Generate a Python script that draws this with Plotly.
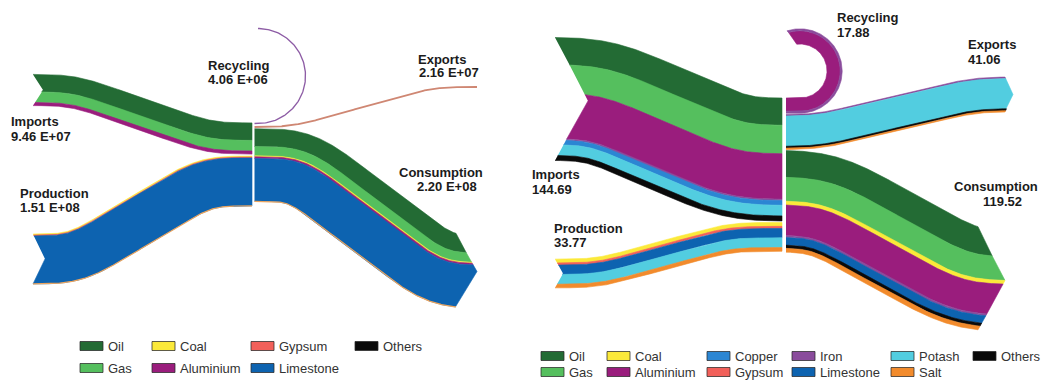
import numpy as np
import plotly.graph_objects as go

# ---------------- data ----------------
# Left panel (tonnes)
left_imports_mat = ["Oil", "Gas", "Aluminium"]
left_imports_val = [5.30e7, 3.20e7, 0.96e7]
left_production_mat = ["Coal", "Gypsum", "Limestone"]
left_production_val = [3.0e6, 2.5e6, 1.455e8]
left_consumption_mat = ["Oil", "Gas", "Coal", "Aluminium", "Limestone"]
left_consumption_val = [5.40e7, 2.80e7, 3.0e6, 5.0e6, 1.30e8]
left_recycling_val = 4.06e6
left_exports_val = 2.16e7

# Right panel
right_imports_mat = ["Oil", "Gas", "Aluminium", "Iron", "Copper", "Potash", "Others"]
right_imports_val = [32.0, 33.5, 53.5, 1.7, 5.5, 12.49, 6.0]
right_production_mat = ["Coal", "Gypsum", "Limestone", "Potash", "Salt"]
right_production_val = [4.5, 2.5, 11.0, 11.5, 4.27]
right_recycling_mat = ["Aluminium", "Iron"]
right_recycling_val = [15.5, 2.38]
right_exports_mat = ["Iron", "Potash", "Others", "Salt"]
right_exports_val = [1.8, 35.5, 2.2, 1.56]
right_consumption_mat = ["Oil", "Gas", "Coal", "Aluminium", "Iron", "Limestone", "Others", "Salt"]
right_consumption_val = [31.5, 28.0, 4.5, 36.0, 2.2, 9.0, 3.8, 4.52]

left_legend = [("Oil", 80, 0), ("Gas", 80, 1), ("Coal", 152, 0), ("Aluminium", 152, 1),
               ("Gypsum", 251, 0), ("Limestone", 251, 1), ("Others", 355, 0)]
right_legend = [("Oil", 541, 0), ("Gas", 541, 1), ("Coal", 607, 0), ("Aluminium", 607, 1),
                ("Copper", 707, 0), ("Gypsum", 707, 1), ("Iron", 792, 0), ("Limestone", 792, 1),
                ("Potash", 891, 0), ("Salt", 891, 1), ("Others", 973, 0)]

COLORS = {"Oil": "#236b34", "Gas": "#55bf5e", "Coal": "#fbe93a", "Aluminium": "#9a1d7d",
          "Gypsum": "#f2605a", "Limestone": "#0d63b0", "Others": "#0a0a0a", "Copper": "#2b86d3",
          "Iron": "#8a4c9c", "Potash": "#52cde0", "Salt": "#f28b2c"}

SCALE_L = 3.3e-7   # px per tonne
SCALE_R = 0.85     # px per unit

STEP = 0.5
fig = go.Figure()


def centerline(points, x0, x1, smooth):
    pad = 120
    xs = np.arange(x0 - pad, x1 + pad + STEP, STEP)
    px, py = zip(*points)
    ys = np.interp(xs, px, py)
    k = max(1, int(smooth / STEP))
    ker = np.ones(k) / k
    for _ in range(2):
        ys = np.convolve(np.pad(ys, (k, k), mode="edge"), ker, mode="same")[k:-k]
    return xs, ys


def offset(ys, s):
    """Curve at perpendicular distance s from ys (s>0 = below on screen)."""
    if abs(s) < 1e-9:
        return ys.copy()
    d = abs(s)
    n = int(np.ceil(d / STEP))
    padded = np.pad(ys, (n, n), mode="edge")
    L = len(ys)
    out = np.full(L, -np.inf if s > 0 else np.inf)
    for i in range(-n, n + 1):
        dx = i * STEP
        h = np.sqrt(max(d * d - dx * dx, 0.0))
        seg = padded[n + i:n + i + L]
        out = np.maximum(out, seg + h) if s > 0 else np.minimum(out, seg - h)
    return out


def poly(x, y, color):
    fig.add_trace(go.Scatter(x=np.round(x, 2), y=np.round(y, 2), mode="lines", fill="toself",
                             fillcolor=color, line=dict(color=color, width=0.6),
                             hoverinfo="skip", showlegend=False))


def band(mats, vals, scale, path, x0, x1, smooth=40, notch=0, tip=0):
    xs, yc = centerline(path, x0, x1, smooth)
    widths = np.array(vals, dtype=float) * scale
    W = widths.sum()
    cum = np.concatenate([[0.0], np.cumsum(widths)])
    curves = [offset(yc, c - W / 2) for c in cum]
    # chevron vertices on the band's middle line
    xl_v, xr_v = x0 + notch, x1 + tip
    yl_v, yr_v = np.interp(xl_v, xs, yc), np.interp(xr_v, xs, yc)

    def piece(k):
        f = 1 - abs(2 * cum[k] / W - 1)
        a, b = x0 + notch * f, x1 + tip * f
        m = (xs > a) & (xs < b)
        px = np.concatenate([[a], xs[m], [b]])
        py = np.concatenate([[np.interp(a, xs, curves[k])], curves[k][m],
                             [np.interp(b, xs, curves[k])]])
        return px, py

    for k, mat in enumerate(mats):
        tx, ty = piece(k)
        bx, by = piece(k + 1)
        spans = cum[k] < W / 2 < cum[k + 1]
        X, Y = [tx], [ty]
        if spans and tip:
            X.append([xr_v]); Y.append([yr_v])
        X.append(bx[::-1]); Y.append(by[::-1])
        if spans and notch:
            X.append([xl_v]); Y.append([yl_v])
        poly(np.concatenate(X), np.concatenate(Y), COLORS[mat])
    return piece(len(mats))


def hook(mats, vals, scale, cx, cy, r_in, x_start, phi_in, phi_out):
    widths = np.array(vals, dtype=float) * scale
    radii = r_in + np.concatenate([[0.0], np.cumsum(widths)])
    R = radii[-1]

    def boundary(r):
        pe = phi_in + (phi_out - phi_in) * (r - r_in) / (R - r_in)
        phi = np.radians(np.linspace(0, pe, 150))
        return (np.concatenate([[x_start], cx + r * np.sin(phi)]),
                np.concatenate([[cy + r], cy + r * np.cos(phi)]))

    for k, mat in enumerate(mats):
        ax, ay = boundary(radii[k])
        bx, by = boundary(radii[k + 1])
        poly(np.concatenate([ax, bx[::-1]]), np.concatenate([ay, by[::-1]]), COLORS[mat])


def edge_line(px, py, color, width):
    fig.add_trace(go.Scatter(x=px, y=py, mode="lines", line=dict(color=color, width=width),
                             hoverinfo="skip", showlegend=False))


# ---------------- left panel ----------------
band(left_imports_mat, left_imports_val, SCALE_L,
     [(20, 90), (72, 90), (210, 138.5), (270, 138.5)], 33, 252, smooth=40, notch=10)
bx, by = band(left_production_mat, left_production_val, SCALE_L,
              [(20, 259), (75, 259), (205, 181), (270, 181)], 33, 252, smooth=40, notch=12)
edge_line(bx, by, "#eba45e", 1.2)
bx, by = band(left_consumption_mat, left_consumption_val, SCALE_L,
              [(240, 165), (300, 165), (440, 271.5), (520, 271.5)], 254.5, 456, smooth=40, tip=21)
edge_line(bx, by, "#eba45e", 1.2)

# recycling loop and exports line
phi = np.radians(np.linspace(0, 180, 120))
edge_line(np.concatenate([[254.5], 258 + 47.5 * np.sin(phi)]),
          np.concatenate([[123.5], 76 + 47.5 * np.cos(phi)]),
          "#8d5ca5", max(left_recycling_val * SCALE_L, 1.2))
ex, ey = centerline([(250, 127), (292, 127), (433, 87), (490, 87)], 254.5, 477, 40)
m = (ex >= 254.5) & (ex <= 477)
edge_line(ex[m], ey[m], "#cf8773", 1.8)

# ---------------- right panel ----------------
band(right_imports_mat, right_imports_val, SCALE_R,
     [(540, 99), (597, 99), (737, 159.5), (800, 159.5)], 555, 782, smooth=50, notch=33)
band(right_production_mat, right_production_val, SCALE_R,
     [(540, 273.5), (597, 273.5), (730, 236.9), (800, 236.9)], 555, 782, smooth=40, notch=8)
hook(right_recycling_mat, right_recycling_val, SCALE_R, 800, 71, 27, 786, 187, 198)
band(right_exports_mat, right_exports_val, SCALE_R,
     [(780, 132), (817, 132), (975, 94.5), (1040, 94.5)], 786, 1005, smooth=40, tip=8)
band(right_consumption_mat, right_consumption_val, SCALE_R,
     [(780, 201.3), (822, 201.3), (965, 280.5), (1040, 280.5)], 786, 978, smooth=50, tip=27)

# ---------------- labels ----------------
FONT = "Liberation Sans, Arial, sans-serif"


def text(x, y, s, bold=True, color="#1b1b1b", anchor="left"):
    fig.add_annotation(x=x, y=y, text=f"<b>{s}</b>" if bold else s, showarrow=False,
                       xanchor=anchor, yanchor="middle", borderpad=0,
                       font=dict(family=FONT, size=13, color=color))


def sci(v):
    return f"{v:.2E}".replace("E", " E")


tot = lambda v: float(np.sum(v))

text(10, 121, "Imports"); text(10, 136, sci(tot(left_imports_val)))
text(207, 65, "Recycling"); text(207, 79, sci(left_recycling_val))
text(417, 59, "Exports"); text(418, 72, sci(left_exports_val))
text(19, 193, "Production"); text(19, 207, sci(tot(left_production_val)))
text(398, 172, "Consumption"); text(416, 186, sci(tot(left_consumption_val)))

text(836, 17, "Recycling"); text(836, 32, f"{tot(right_recycling_val):.2f}")
text(967, 44, "Exports"); text(967, 59, f"{tot(right_exports_val):.2f}")
text(531, 174, "Imports"); text(531, 189, f"{tot(right_imports_val):.2f}")
text(553, 228, "Production"); text(553, 242, f"{tot(right_production_val):.2f}")
text(953, 186, "Consumption"); text(982, 201, f"{tot(right_consumption_val):.2f}")

# ---------------- legends ----------------
def legend(items, rows_y, sw=23, sh=9, gap=4):
    for name, x, row in items:
        y = rows_y[row]
        fig.add_shape(type="rect", x0=x, x1=x + sw, y0=y - sh / 2, y1=y + sh / 2,
                      fillcolor=COLORS[name], line=dict(color="rgba(40,40,40,0.75)", width=1))
        text(x + sw + gap, y, name, bold=False, color="#333333")


legend(left_legend, {0: 346, 1: 368})
legend(right_legend, {0: 356, 1: 372})

fig.update_layout(width=1041, height=381, margin=dict(l=0, r=0, t=0, b=0),
                  paper_bgcolor="white", plot_bgcolor="white", showlegend=False)
fig.update_xaxes(range=[0, 1041], visible=False, fixedrange=True)
fig.update_yaxes(range=[381, 0], visible=False, fixedrange=True)
fig.write_html("out.html")
